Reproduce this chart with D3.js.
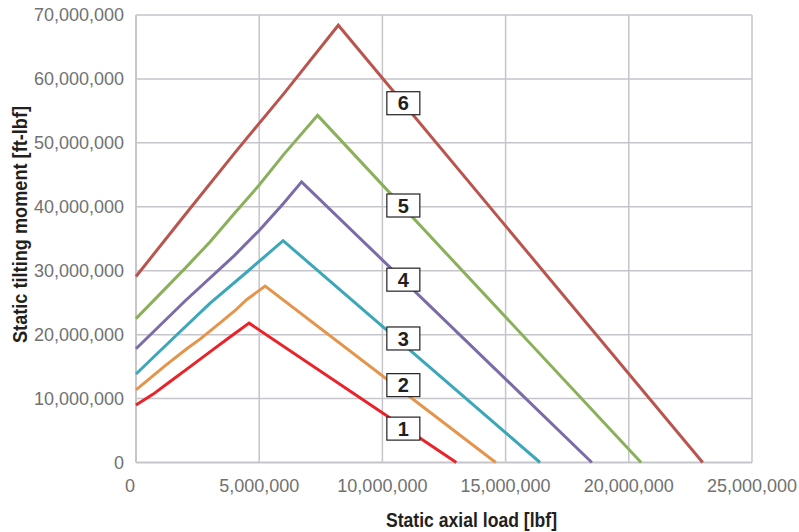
<!DOCTYPE html>
<html>
<head>
<meta charset="utf-8">
<script src="https://cdn.jsdelivr.net/npm/d3@7"></script>
<style>
  html, body { margin: 0; padding: 0; background: #fff; }
  svg { display: block; }
</style>
</head>
<body>
<svg id="chart" width="799" height="532"></svg>
<script>
// ---- data (lbf, ft-lbf) ----
const xTicks = [0, 5000000, 10000000, 15000000, 20000000, 25000000];
const yTicks = [0, 10000000, 20000000, 30000000, 40000000, 50000000, 60000000, 70000000];

const seriesNames = ["1", "2", "3", "4", "5", "6"];
const seriesColors = ["#ea2229", "#e5944b", "#3ca7b9", "#7b6ba8", "#8bb05b", "#b9554e"];

const curve1 = [[0, 9000000], [700000, 10700000], [1400000, 12700000], [2200000, 15000000], [3000000, 17300000], [3800000, 19600000], [4590000, 21800000], [13000000, 0]];
const curve2 = [[0, 11350000], [1200000, 15200000], [2100000, 17900000], [2600000, 19300000], [3400000, 21800000], [4000000, 23700000], [4500000, 25500000], [5240000, 27600000], [14600000, 0]];
const curve3 = [[0, 13850000], [1500000, 19400000], [3000000, 24900000], [4500000, 29800000], [5970000, 34700000], [16400000, 0]];
const curve4 = [[0, 17800000], [2000000, 25300000], [4000000, 32400000], [5000000, 36300000], [6000000, 40600000], [6720000, 43900000], [18500000, 0]];
const curve5 = [[0, 22500000], [2000000, 30400000], [3000000, 34500000], [4000000, 39000000], [5000000, 43400000], [6000000, 48200000], [7370000, 54300000], [20500000, 0]];
const curve6 = [[0, 29100000], [2000000, 38800000], [4000000, 48400000], [6000000, 57700000], [8210000, 68400000], [23000000, 0]];
const curves = [curve1, curve2, curve3, curve4, curve5, curve6];

// label anchor positions (data units)
const labelX = [10850000, 10850000, 10850000, 10850000, 10850000, 10850000];
const labelY = [5300000, 12100000, 19400000, 28600000, 40200000, 56200000];

// ---- drawing ----
const svg = d3.select("#chart");
const x = d3.scaleLinear().domain([0, 25000000]).range([136, 752]);
const y = d3.scaleLinear().domain([0, 70000000]).range([462.5, 15]);
const fmt = d3.format(",");
const gridColor = "#c5c5ca";
const tickFont = "'Liberation Sans', Arial, sans-serif";
const titleFont = "'Liberation Sans', Arial, sans-serif";

// grid lines
svg.append("g").selectAll("line.h").data(yTicks).join("line")
  .attr("x1", x(0)).attr("x2", x(25000000))
  .attr("y1", d => y(d)).attr("y2", d => y(d))
  .attr("stroke", gridColor).attr("stroke-width", d => d === 0 ? 2 : 1.5);
svg.append("g").selectAll("line.v").data(xTicks).join("line")
  .attr("y1", y(0)).attr("y2", y(70000000))
  .attr("x1", d => x(d)).attr("x2", d => x(d))
  .attr("stroke", gridColor).attr("stroke-width", d => d === 0 ? 2 : 1.5);

// tick labels
svg.append("g").selectAll("text").data(yTicks).join("text")
  .attr("x", 124).attr("y", d => y(d)).attr("dy", "0.35em")
  .attr("text-anchor", "end")
  .attr("font-family", tickFont).attr("font-size", 18)
  .attr("fill", "#717171")
  .text(d => fmt(d));
svg.append("g").selectAll("text").data(xTicks).join("text")
  .attr("x", d => x(d) - (d === 0 ? 6 : 0)).attr("y", 492)
  .attr("text-anchor", "middle")
  .attr("font-family", tickFont).attr("font-size", 18)
  .attr("fill", "#717171")
  .text(d => fmt(d));

// axis titles
svg.append("text")
  .attr("x", 386).attr("y", 527)
  .attr("textLength", 171).attr("lengthAdjust", "spacingAndGlyphs")
  .attr("font-family", titleFont).attr("font-size", 21).attr("font-weight", "bold")
  .attr("fill", "#231f20")
  .text("Static axial load [lbf]");
svg.append("text")
  .attr("transform", "translate(27,343) rotate(-90)")
  .attr("textLength", 237).attr("lengthAdjust", "spacingAndGlyphs")
  .attr("font-family", titleFont).attr("font-size", 21).attr("font-weight", "bold")
  .attr("fill", "#231f20")
  .text("Static tilting moment [ft-lbf]");

// lines
const line = d3.line().x(d => x(d[0])).y(d => y(d[1]));
svg.append("g").selectAll("path").data(curves).join("path")
  .attr("d", line)
  .attr("fill", "none")
  .attr("stroke", (d, i) => seriesColors[i])
  .attr("stroke-width", 3)
  .attr("stroke-linejoin", "miter");

// labels
const lg = svg.append("g").selectAll("g").data(seriesNames).join("g")
  .attr("transform", (d, i) => `translate(${x(labelX[i])},${y(labelY[i])})`);
lg.append("rect")
  .attr("x", -16.5).attr("y", -11.5).attr("width", 33).attr("height", 23)
  .attr("fill", "#fff").attr("stroke", "#231f20").attr("stroke-width", 1.2);
lg.append("text")
  .attr("text-anchor", "middle").attr("dy", "0.36em")
  .attr("font-family", "'Liberation Sans', Arial, sans-serif").attr("font-size", 20).attr("font-weight", "bold")
  .attr("fill", "#231f20")
  .text(d => d);
</script>
</body>
</html>
